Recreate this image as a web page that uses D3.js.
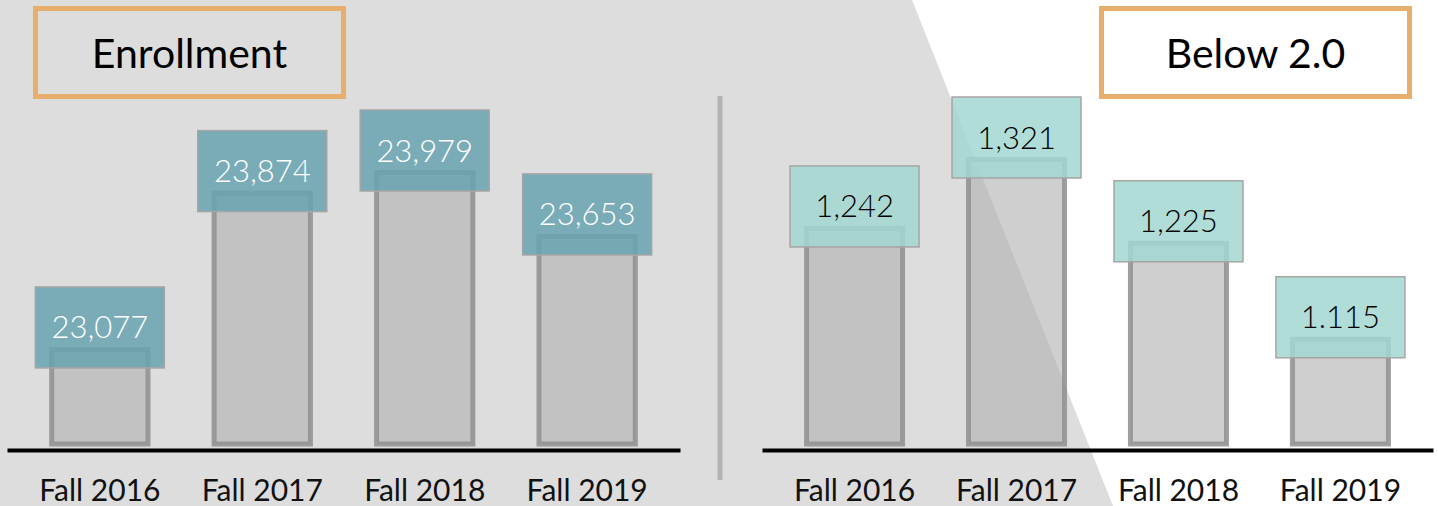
<!DOCTYPE html>
<html>
<head>
<meta charset="utf-8">
<script src="https://cdn.jsdelivr.net/npm/d3@7/dist/d3.min.js"></script>
<style>
  body { margin: 0; background: #fff; }
  svg { display: block; font-family: Lato, "Open Sans", sans-serif; }
</style>
</head>
<body>
<svg class="chart" width="1438" height="506"></svg>
<script>
// datos
var terms = ["Fall 2016", "Fall 2017", "Fall 2018", "Fall 2019"];
var enrollment = [23077, 23874, 23979, 23653];
var below2 = [1242, 1321, 1225, 1115];
var below2Labels = ["1,242", "1,321", "1,225", "1.115"];
var titles = ["Enrollment", "Below 2.0"];

var W = 1438, H = 506;
var svg = d3.select(".chart");

// fondo gris con diagonal
svg.append("path")
    .attr("d", "M0,0 L912,0 L1113," + H + " L0," + H + " Z")
    .attr("fill", "#dddddd");

// separador
svg.append("line")
    .attr("x1", 720).attr("x2", 720)
    .attr("y1", 96).attr("y2", 480)
    .attr("stroke", "#b3b3b3")
    .attr("stroke-width", 5);

function panel(opts) {
    var g = svg.append("g");

    var x = d3.scaleBand()
        .domain(terms)
        .range(opts.xr)
        .paddingInner(0.407)
        .paddingOuter(0.275);

    var y = d3.scaleLinear()
        .domain(opts.yd)
        .range([444, opts.ytop]);

    var data = terms.map(function(t, i) {
        return {term: t, value: opts.values[i], label: opts.labels[i]};
    });

    // barras
    g.selectAll("rect.bar")
        .data(data)
        .enter().append("rect")
        .attr("class", "bar")
        .attr("x", function(d) { return x(d.term); })
        .attr("width", x.bandwidth())
        .attr("y", function(d) { return y(d.value); })
        .attr("height", function(d) { return 444 - y(d.value); })
        .attr("fill", "#b1b1b1")
        .attr("fill-opacity", 0.62)
        .attr("stroke", "#8f8f8f")
        .attr("stroke-opacity", 0.85)
        .attr("stroke-width", 5);

    // eje x
    var axis = g.append("g")
        .attr("transform", "translate(0,450)")
        .call(d3.axisBottom(x).tickSize(0).tickSizeOuter(0).tickPadding(30));
    axis.select(".domain")
        .attr("stroke", "#000")
        .attr("stroke-width", 4);
    axis.selectAll("text")
        .attr("fill", "#111")
        .style("font-size", "30px")
        .style("font-family", "Lato, sans-serif");

    // cajas de valores
    var lab = g.selectAll("g.lab")
        .data(data)
        .enter().append("g")
        .attr("class", "lab")
        .attr("transform", function(d) {
            return "translate(" + (x(d.term) + x.bandwidth() / 2) + "," + y(d.value) + ")";
        });
    lab.append("rect")
        .attr("x", -64.5)
        .attr("y", -62.5)
        .attr("width", 129)
        .attr("height", 81)
        .attr("fill", opts.boxFill)
        .attr("fill-opacity", 0.85)
        .attr("stroke", "#a5a5a5")
        .attr("stroke-width", 1.5);
    lab.append("text")
        .attr("x", 0)
        .attr("y", -11)
        .attr("text-anchor", "middle")
        .attr("fill", opts.textFill)
        .style("font-size", "31px")
        .style("font-weight", 300)
        .text(function(d) { return d.label; });

    // titulo
    g.append("rect")
        .attr("x", opts.tx).attr("y", 8.5)
        .attr("width", 308).attr("height", 88)
        .attr("fill", "none")
        .attr("stroke", "#e8ae6b")
        .attr("stroke-width", 5);
    g.append("text")
        .attr("x", opts.tx + 154)
        .attr("y", 68)
        .attr("text-anchor", "middle")
        .attr("fill", "#000")
        .style("font-size", "41px")
        .text(opts.title);
}

panel({
    xr: [7, 680],
    yd: [22595, 23979],
    ytop: 172.5,
    values: enrollment,
    labels: enrollment.map(d3.format(",")),
    boxFill: "#69a3b2",
    textFill: "#fff",
    tx: 35.5,
    title: titles[0]
});

panel({
    xr: [762, 1433],
    yd: [995, 1321],
    ytop: 159.5,
    values: below2,
    labels: below2Labels,
    boxFill: "#a2d7d1",
    textFill: "#000",
    tx: 1101.5,
    title: titles[1]
});
</script>
</body>
</html>
